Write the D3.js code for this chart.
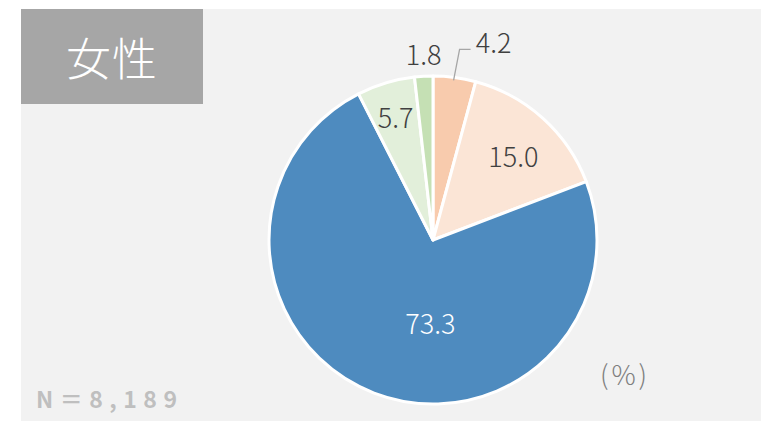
<!DOCTYPE html>
<html lang="ja">
<head>
  <meta charset="UTF-8">
  <title>女性</title>
  <script src="https://d3js.org/d3.v7.min.js"></script>
  <style>
    body { margin: 0; background: #fff; }
    svg { display: block; }
    .lbl { font-family: "Noto Sans CJK JP", "Noto Sans", sans-serif; font-weight: 300; }
  </style>
</head>
<body>
  <svg width="761" height="421"></svg>
  <script>
    // data, clockwise from 12 o'clock
    const categories = ["a", "b", "c", "d", "e"];
    const values = [4.2, 15.0, 73.3, 5.7, 1.8];
    const colors = ["#f8cbad", "#fbe5d6", "#4e8bbf", "#e2efda", "#c5e0b4"];
    const labelColors = ["#404040", "#404040", "#ffffff", "#404040", "#404040"];
    const title = "女性";
    const nText = "N＝8,189";
    const unit = "(%)";

    const svg = d3.select("svg");
    const W = 761, H = 421;

    // panel
    svg.append("rect").attr("x", 21).attr("y", 9).attr("width", W - 21).attr("height", H - 9)
      .attr("fill", "#f2f2f2");

    // title box
    svg.append("rect").attr("x", 21).attr("y", 9).attr("width", 182).attr("height", 95)
      .attr("fill", "#a6a6a6");
    svg.append("text").attr("class", "lbl").attr("x", 112).attr("y", 56)
      .attr("text-anchor", "middle").attr("dominant-baseline", "central")
      .attr("fill", "#fff").attr("font-size", 45).style("font-weight", 200)
      .attr("letter-spacing", 1)
      .text(title);

    const cx = 433, cy = 240, R = 164;
    const g = svg.append("g").attr("transform", `translate(${cx},${cy})`);

    const pie = d3.pie().sort(null).value(d => d.v);
    const arcs = pie(categories.map((c, i) => ({ c, v: values[i], i })));
    const arc = d3.arc().innerRadius(0).outerRadius(R);

    g.selectAll("path.slice")
      .data(arcs)
      .join("path")
      .attr("class", "slice")
      .attr("d", arc)
      .attr("fill", d => colors[d.data.i])
      .attr("stroke", "#fff")
      .attr("stroke-width", 3)
      .attr("stroke-linejoin", "round");

    // label placement: inside labels at centroid of a smaller arc, small slices outside
    const labelArc = d3.arc().innerRadius(R * 0.73).outerRadius(R * 0.73);
    const outArc = d3.arc().innerRadius(R * 1.13).outerRadius(R * 1.13);
    const nudge = [[0, 0], [0, 4], [0, 3], [-3, -9], [1, -1]];

    function labelPos(d) {
      const i = d.data.i;
      if (i === 4) { const p = outArc.centroid(d); return [p[0] + nudge[i][0], p[1] + nudge[i][1]]; }
      if (i === 2) { const p = d3.arc().innerRadius(R * 0.52).outerRadius(R * 0.52).centroid(d); return [p[0] + 28, p[1] + nudge[i][1]]; }
      const p = labelArc.centroid(d);
      return [p[0] + nudge[i][0], p[1] + nudge[i][1]];
    }

    // leader line for first (small) slice
    const first = arcs[0];
    const edge = d3.arc().innerRadius(R).outerRadius(R).centroid(first);
    const lp = [edge[0] + 5, edge[1] - 28];
    g.append("polyline")
      .attr("points", [[edge[0] - 1, edge[1] + 3], lp, [lp[0] + 11, lp[1]]].map(p => p.join(",")).join(" "))
      .attr("fill", "none").attr("stroke", "#a6a6a6").attr("stroke-width", 1.3);

    g.selectAll("text.val")
      .data(arcs)
      .join("text")
      .attr("class", "lbl val")
      .attr("transform", d => {
        if (d.data.i === 0) return `translate(${lp[0] + 34},${lp[1] - 8})`;
        return `translate(${labelPos(d)})`;
      })
      .attr("text-anchor", "middle")
      .attr("dominant-baseline", "central")
      .attr("font-size", 27)
      .attr("fill", d => labelColors[d.data.i])
      .text(d => d.data.v.toFixed(1));

    // N
    svg.append("text").attr("class", "lbl").attr("x", 36).attr("y", 408)
      .attr("fill", "#bfbfbf").attr("font-size", 23).style("font-weight", 700)
      .attr("letter-spacing", 6.5)
      .text(nText);

    // unit
    svg.append("text").attr("class", "lbl").attr("x", 625).attr("y", 373)
      .attr("text-anchor", "middle").attr("dominant-baseline", "central")
      .attr("fill", "#7f7f7f").attr("font-size", 27)
      .attr("letter-spacing", 3)
      .text(unit);
  </script>
</body>
</html>
